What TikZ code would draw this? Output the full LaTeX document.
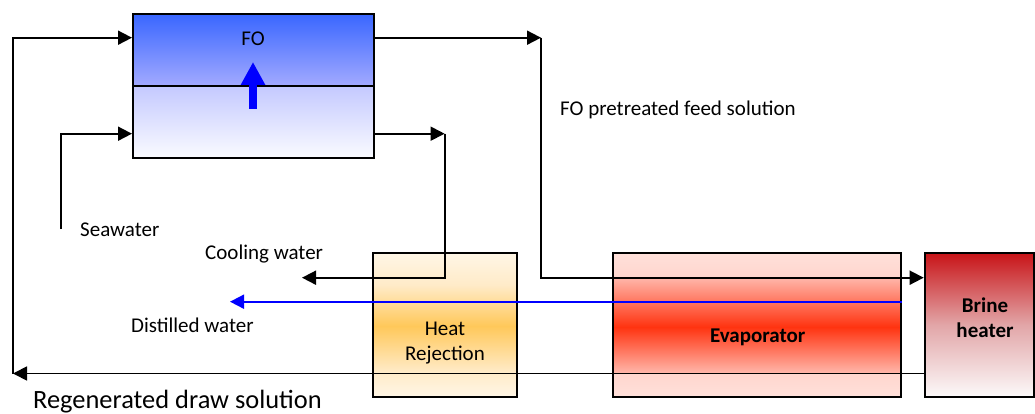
\documentclass[tikz,border=0pt]{standalone}
\usepackage{fontspec}
\setmainfont{Carlito}
\usetikzlibrary{arrows.meta}
\definecolor{foTop}{HTML}{3966FF}
\definecolor{foMid}{HTML}{A3AAFF}
\definecolor{foLow}{HTML}{C4C9FF}
\definecolor{foBot}{HTML}{FAFBFF}
\definecolor{hrPale}{HTML}{FFF6E6}
\definecolor{hrLight}{HTML}{FFEBC8}
\definecolor{hrDeep}{HTML}{FFC85A}
\definecolor{evPale}{HTML}{FFE0DA}
\definecolor{evPale2}{HTML}{FFD6CE}
\definecolor{evLight}{HTML}{FFB8AC}
\definecolor{evDeep}{HTML}{FF3310}
\definecolor{bhTop}{HTML}{C81418}
\definecolor{bhMid}{HTML}{E2A6A8}
\definecolor{bhBot}{HTML}{FCFAFA}
\definecolor{flowBlue}{HTML}{0000FF}
\begin{document}
\begin{tikzpicture}[x=1pt,y=-1pt,
  box/.style={draw=black, line width=2pt, rectangle, inner sep=0pt},
  flow/.style={line width=1.8pt, draw=black},
  blueflow/.style={line width=1.8pt, draw=flowBlue},
  tip/.style={-{Triangle[length=14pt,width=14pt]}},
  lbl/.style={font=\fontsize{21}{25}\selectfont, inner sep=0pt},
  blbl/.style={font=\fontsize{21}{25}\selectfont\bfseries, inner sep=0pt, align=center},
  ]
\useasboundingbox (0,0) rectangle (1035,414);

% --- shadings (behind boxes)
\shade[top color=foTop, bottom color=foMid] (133,13.7) rectangle (373.6,86);
\shade[top color=foLow, bottom color=foBot] (133,86) rectangle (373.6,157.7);

\shade[top color=hrPale, bottom color=hrLight] (373,253) rectangle (517,285);
\shade[top color=hrLight, bottom color=hrDeep] (373,285) rectangle (517,326);
\shade[top color=hrDeep, bottom color=hrLight] (373,326) rectangle (517,372);
\shade[top color=hrLight, bottom color=hrPale] (373,372) rectangle (517,397);

\shade[top color=evPale, bottom color=evPale2] (612.6,253) rectangle (901,277);
\shade[top color=evLight, bottom color=evDeep] (612.6,277) rectangle (901,327);
\shade[top color=evDeep, bottom color=evLight] (612.6,327) rectangle (901,373.5);
\shade[top color=evPale2, bottom color=evPale] (612.6,373.5) rectangle (901,397);

\shade[top color=bhTop, bottom color=bhBot, middle color=bhMid] (924.7,253) rectangle (1033.5,397);

% --- boxes
\node[box, minimum width=240.6pt, minimum height=144pt] (fo) at (253.3,85.7) {};
\draw[line width=2pt] (fo.west |- 0,86) -- (fo.east |- 0,86);
\node[box, minimum width=144pt, minimum height=144pt] (hr) at (445,325) {};
\node[box, minimum width=288.4pt, minimum height=144pt] (evap) at (756.8,325) {};
\node[box, minimum width=108.8pt, minimum height=144pt] (bh) at (979.1,325) {};

% permeation arrow inside FO
\draw[line width=8pt, draw=flowBlue, -{Triangle[length=23pt,width=23pt]}] (253,109) -- (253,62);

% --- coordinates
\coordinate (lc) at (13,373.5);
\coordinate (sw) at (61,229);
\coordinate (fr) at (541,37.7);
\coordinate (hrc) at (444.6,133.7);
\coordinate (cw) at (302,277.7);
\coordinate (dw) at (230,301.7);

% --- connectors
\draw[flow,tip] (bh.west |- 0,373.5) -- (lc);
\draw[flow,tip] (lc) |- (fo.west |- 0,37.7);
\draw[flow,tip] (sw) |- (fo.west |- 0,133.7);
\draw[flow,tip] (fo.east |- fr) -- (fr);
\draw[flow,tip] (fr) |- (bh.west |- 0,277.7);
\draw[flow,tip] (fo.east |- hrc) -- (hrc);
\draw[flow,tip] (hrc) |- (cw);
\draw[blueflow,tip] (evap.east |- dw) -- (dw);

% --- labels
\node[lbl] (tfo) at (253,39) {FO};
\node[lbl, anchor=west] (tfeed) at (560,110) {FO pretreated feed solution};
\node[lbl, anchor=west] (tsea) at (80,230) {Seawater};
\node[lbl, anchor=west] (tcool) at (205,254) {Cooling water};
\node[lbl, anchor=west] (tdist) at (131,325.6) {Distilled water};
\node[inner sep=0pt, anchor=west, font=\fontsize{26.4}{30}\selectfont] (tregen) at (33,401.7) {Regenerated draw solution};
\node[lbl, align=center] (thr) at (445,343.3) {Heat\\Rejection};
\node[blbl] (tev) at (757.7,337) {Evaporator};
\node[blbl] (tbh) at (985,317.5) {Brine\\heater};
\end{tikzpicture}
\end{document}
